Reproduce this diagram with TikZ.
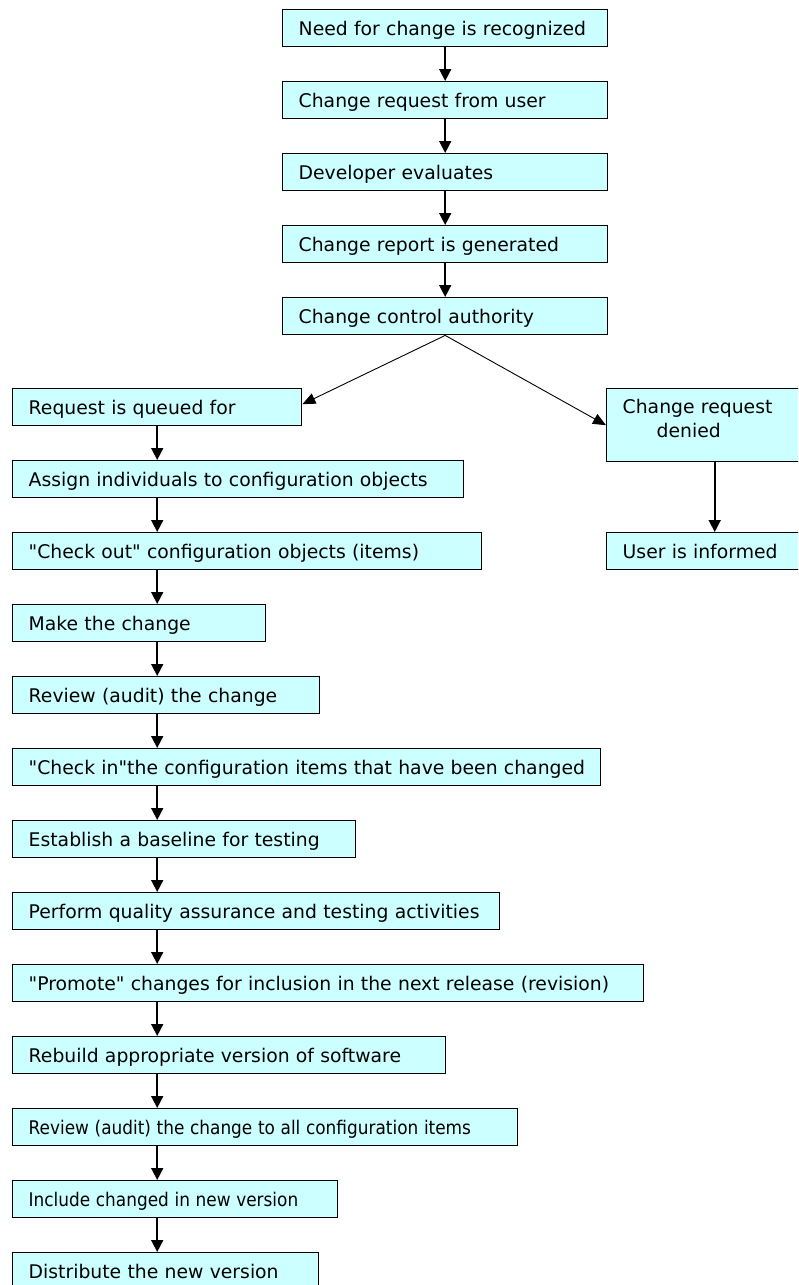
\documentclass[tikz,border=0pt]{standalone}
\usepackage{fontspec}
% plain family: no TeX ligature mapping, so " stays a straight quote
\newfontfamily\boxfont{DejaVu Sans}
\usetikzlibrary{arrows.meta}
\definecolor{boxfill}{HTML}{CCFFFF}
\begin{document}
\begin{tikzpicture}[x=1pt,y=-1pt,
  basebox/.style={draw=black, line width=1.4pt, fill=boxfill, anchor=north west,
    inner xsep=16pt, inner ysep=0pt, text width=#1, align=left,
    font=\boxfont\fontsize{18.8}{24}\selectfont},
  stepbox/.style={basebox=#1, text height=25.5pt, text depth=11.5pt,
    execute at begin node=\hbox\bgroup, execute at end node=\egroup},
  flow/.style={line width=1.6pt, -{Triangle[length=12pt,width=12pt]}},
  branch/.style={line width=0.9pt, -{Triangle[length=13pt,width=11pt]}}]
\useasboundingbox (0,0) rectangle (798,1285);
\clip (0,0) rectangle (798,1285);

% upper column
\node[stepbox=293pt] (need)    at (282,9)   {Need for change is recognized};
\node[stepbox=293pt] (request) at (282,81)  {Change request from user};
\node[stepbox=293pt] (evaluate) at (282,153) {Developer evaluates};
\node[stepbox=293pt] (report)  at (282,225) {Change report is generated};
\node[stepbox=293pt] (ccauth)  at (282,297) {Change control authority};

% rejected branch
\node[basebox=184pt, text height=25pt, text depth=48pt] (denied) at (606,388)
  {Change request\\\hspace*{34pt}denied};
\node[stepbox=184pt] (informed) at (606,532) {User is informed};

% accepted branch
\node[stepbox=257pt] (queued)     at (12,388)  {Request is queued for};
\node[stepbox=419pt] (assign)     at (12,460)  {Assign individuals to configuration objects};
\node[stepbox=437pt] (checkout)   at (12,532)  {"Check out" configuration objects (items)};
\node[stepbox=221pt] (make)       at (12,604)  {Make the change};
\node[stepbox=275pt] (review)     at (12,676)  {Review (audit) the change};
\node[stepbox=556pt] (checkin)    at (12,748)  {"Check in"the configuration items that have been changed};
\node[stepbox=311pt] (baseline)   at (12,820)  {Establish a baseline for testing};
\node[stepbox=455pt] (qa)         at (12,892)  {Perform quality assurance and testing activities};
\node[stepbox=599pt] (promote)    at (12,964)  {"Promote" changes for inclusion in the next release (revision)};
\node[stepbox=401pt] (rebuild)    at (12,1036) {Rebuild appropriate version of software};
\node[stepbox=473pt] (reviewall)  at (12,1108) {\scalebox{0.9}[1]{Review (audit) the change to all configuration items}};
\node[stepbox=293pt] (include)    at (12,1180) {\scalebox{0.9}[1]{Include changed in new version}};
\node[stepbox=274pt] (distribute) at (12,1252) {Distribute the new version};

% connectors
\foreach \a/\b in {need/request, request/evaluate, evaluate/report, report/ccauth, denied/informed}
  \draw[flow] (\a.south) -- (\b.north);
\foreach \a/\b in {queued/assign, assign/checkout, checkout/make, make/review,
    review/checkin, checkin/baseline, baseline/qa, qa/promote, promote/rebuild,
    rebuild/reviewall, reviewall/include, include/distribute}
  \draw[flow] (\a.south -| queued.south) -- (\b.north -| queued.south);
\draw[branch] (ccauth.south) -- ([yshift=3pt]queued.east);
\draw[branch] (ccauth.south) -- (denied.west);
\end{tikzpicture}
\end{document}
